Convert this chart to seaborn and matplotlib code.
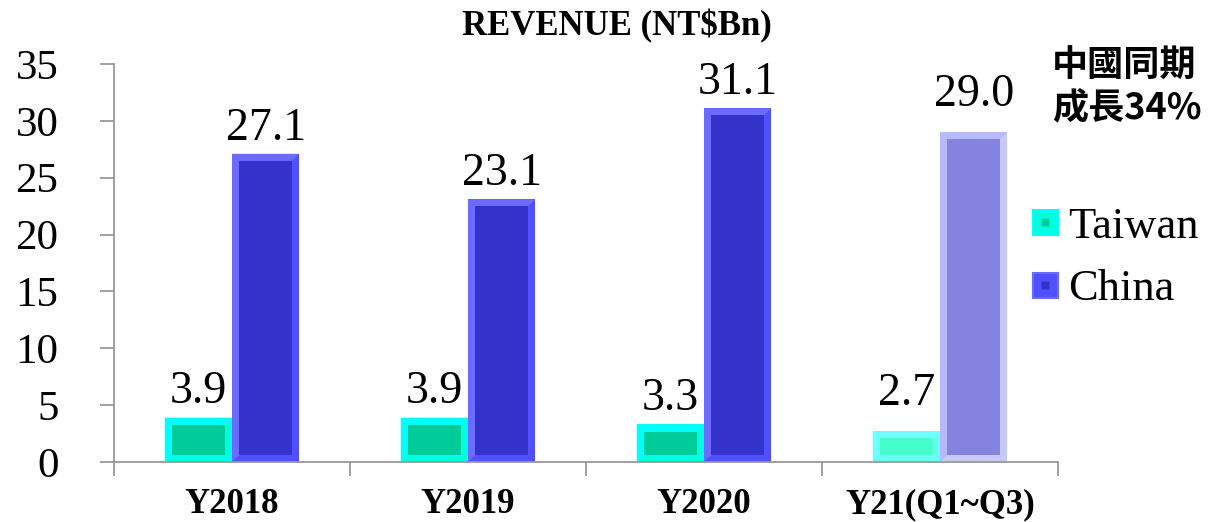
import pandas as pd
import numpy as np
import seaborn as sns
import matplotlib.pyplot as plt
from matplotlib.patches import Rectangle, Polygon
from matplotlib.lines import Line2D
from matplotlib.legend_handler import HandlerTuple

# Revenue by period (NT$ billions)
periods = ["Y2018", "Y2019", "Y2020", "Y21(Q1~Q3)"]
taiwan = [3.9, 3.9, 3.3, 2.7]
china = [27.1, 23.1, 31.1, 29.0]
regions = ["Taiwan", "China"]

df = pd.DataFrame({
    "period": periods * 2,
    "revenue": taiwan + china,
    "region": ["Taiwan"] * len(periods) + ["China"] * len(periods),
})

# colours: (outer, light bevel, inner) - last period is drawn faded
colours = {
    "Taiwan": ("#00FFE0", "#00FFFF", "#00CC99"),
    "China": ("#5050FF", "#6B6BFF", "#3333CC"),
}
faded = {
    "Taiwan": ("#66FFF0", "#70FFFF", "#44FFCC"),
    "China": ("#C8C8FF", "#B8B8FF", "#8484E0"),
}

sns.set_theme(style="white")
plt.rcParams["font.family"] = ["Liberation Serif", "DejaVu Serif"]
plt.rcParams["text.color"] = "black"
plt.rcParams["xtick.labelcolor"] = "black"
plt.rcParams["ytick.labelcolor"] = "black"

fig = plt.figure(figsize=(12.11, 5.22), dpi=100)
ax = fig.add_axes([114 / 1211, 60 / 522, (1058 - 114) / 1211, (462 - 64) / 522])

sns.barplot(data=df, x="period", y="revenue", hue="region", hue_order=regions,
            palette=[colours[r][0] for r in regions], width=0.57, gap=0,
            saturation=1, edgecolor="none", linewidth=0, legend=False, ax=ax)

ax.set_ylim(0, 35)
ax.set_xlim(-0.5, len(periods) - 0.5)

dx, dy = 0.03, 0.62
for ri, (region, cont) in enumerate(zip(regions, ax.containers)):
    for pi, bar in enumerate(cont):
        x0, y0 = bar.get_x(), bar.get_y()
        w, h = bar.get_width(), bar.get_height()
        outer, light, inner = (faded if pi == len(periods) - 1 else colours)[region]
        bar.set_facecolor(outer)
        # light bevel on top and left
        ax.add_patch(Polygon([(x0, y0 + h), (x0 + w, y0 + h), (x0 + w - dx, y0 + h - dy),
                              (x0 + dx, y0 + h - dy)], closed=True, facecolor=light,
                             edgecolor="none", zorder=3))
        ax.add_patch(Polygon([(x0, y0), (x0, y0 + h), (x0 + dx, y0 + h - dy), (x0 + dx, y0 + dy)],
                             closed=True, facecolor=light, edgecolor="none", zorder=3))
        ax.add_patch(Rectangle((x0 + dx, y0 + dy), w - 2 * dx, h - 2 * dy,
                               facecolor=inner, edgecolor="none", zorder=3))
        pad = 12 if pi == len(periods) - 1 else 3
        ax.annotate(f"{h:.1f}", (x0 + w / 2, y0 + h), xytext=(0, pad),
                    textcoords="offset points", ha="center", va="bottom", fontsize=33)

# axes styling
for s in ["top", "right"]:
    ax.spines[s].set_visible(False)
for s in ["left", "bottom"]:
    ax.spines[s].set_color("#999999")
    ax.spines[s].set_linewidth(1.3)

ax.set_yticks(range(0, 36, 5))
ax.tick_params(axis="y", which="major", left=True, length=10, width=1.3, color="#999999",
               labelsize=31, pad=30)
ax.set_xticks(np.arange(-0.5, len(periods), 1.0))
ax.set_xticklabels([])
ax.set_xticks(range(len(periods)), minor=True)
ax.set_xticklabels(periods, minor=True, fontweight="bold", fontsize=25)
ax.tick_params(axis="x", which="major", bottom=True, length=10, width=1.3, color="#999999")
ax.tick_params(axis="x", which="minor", bottom=True, length=0, pad=19)
ax.set_xlabel("")
ax.set_ylabel("")
ax.grid(False)

fig.text(617 / 1211, 1 - 26 / 522, "REVENUE (NT$Bn)", ha="center", va="center",
         fontsize=25, fontweight="bold")

fig.text(1052 / 1211, 1 - 87 / 522, "中國同期\n成長34%", ha="left", va="center",
         fontsize=26, fontweight="bold", linespacing=1.15,
         family=["Noto Sans CJK TC", "DejaVu Sans"])

handles = []
for region in regions:
    outer, light, inner = colours[region]
    handles.append((Line2D([], [], ls="none", marker="s", markersize=18, markerfacecolor=outer,
                           markeredgecolor=light, markeredgewidth=1.5),
                    Line2D([], [], ls="none", marker="s", markersize=6, markerfacecolor=inner,
                           markeredgecolor="none")))
fig.legend(handles, regions, handler_map={tuple: HandlerTuple(ndivide=1)},
           loc="center left", bbox_to_anchor=(1028 / 1211, 1 - 258 / 522),
           frameon=False, fontsize=32, handlelength=0.75, handletextpad=0.15,
           labelspacing=0.5, borderpad=0, borderaxespad=0)

fig.savefig("out.png", dpi=100)
